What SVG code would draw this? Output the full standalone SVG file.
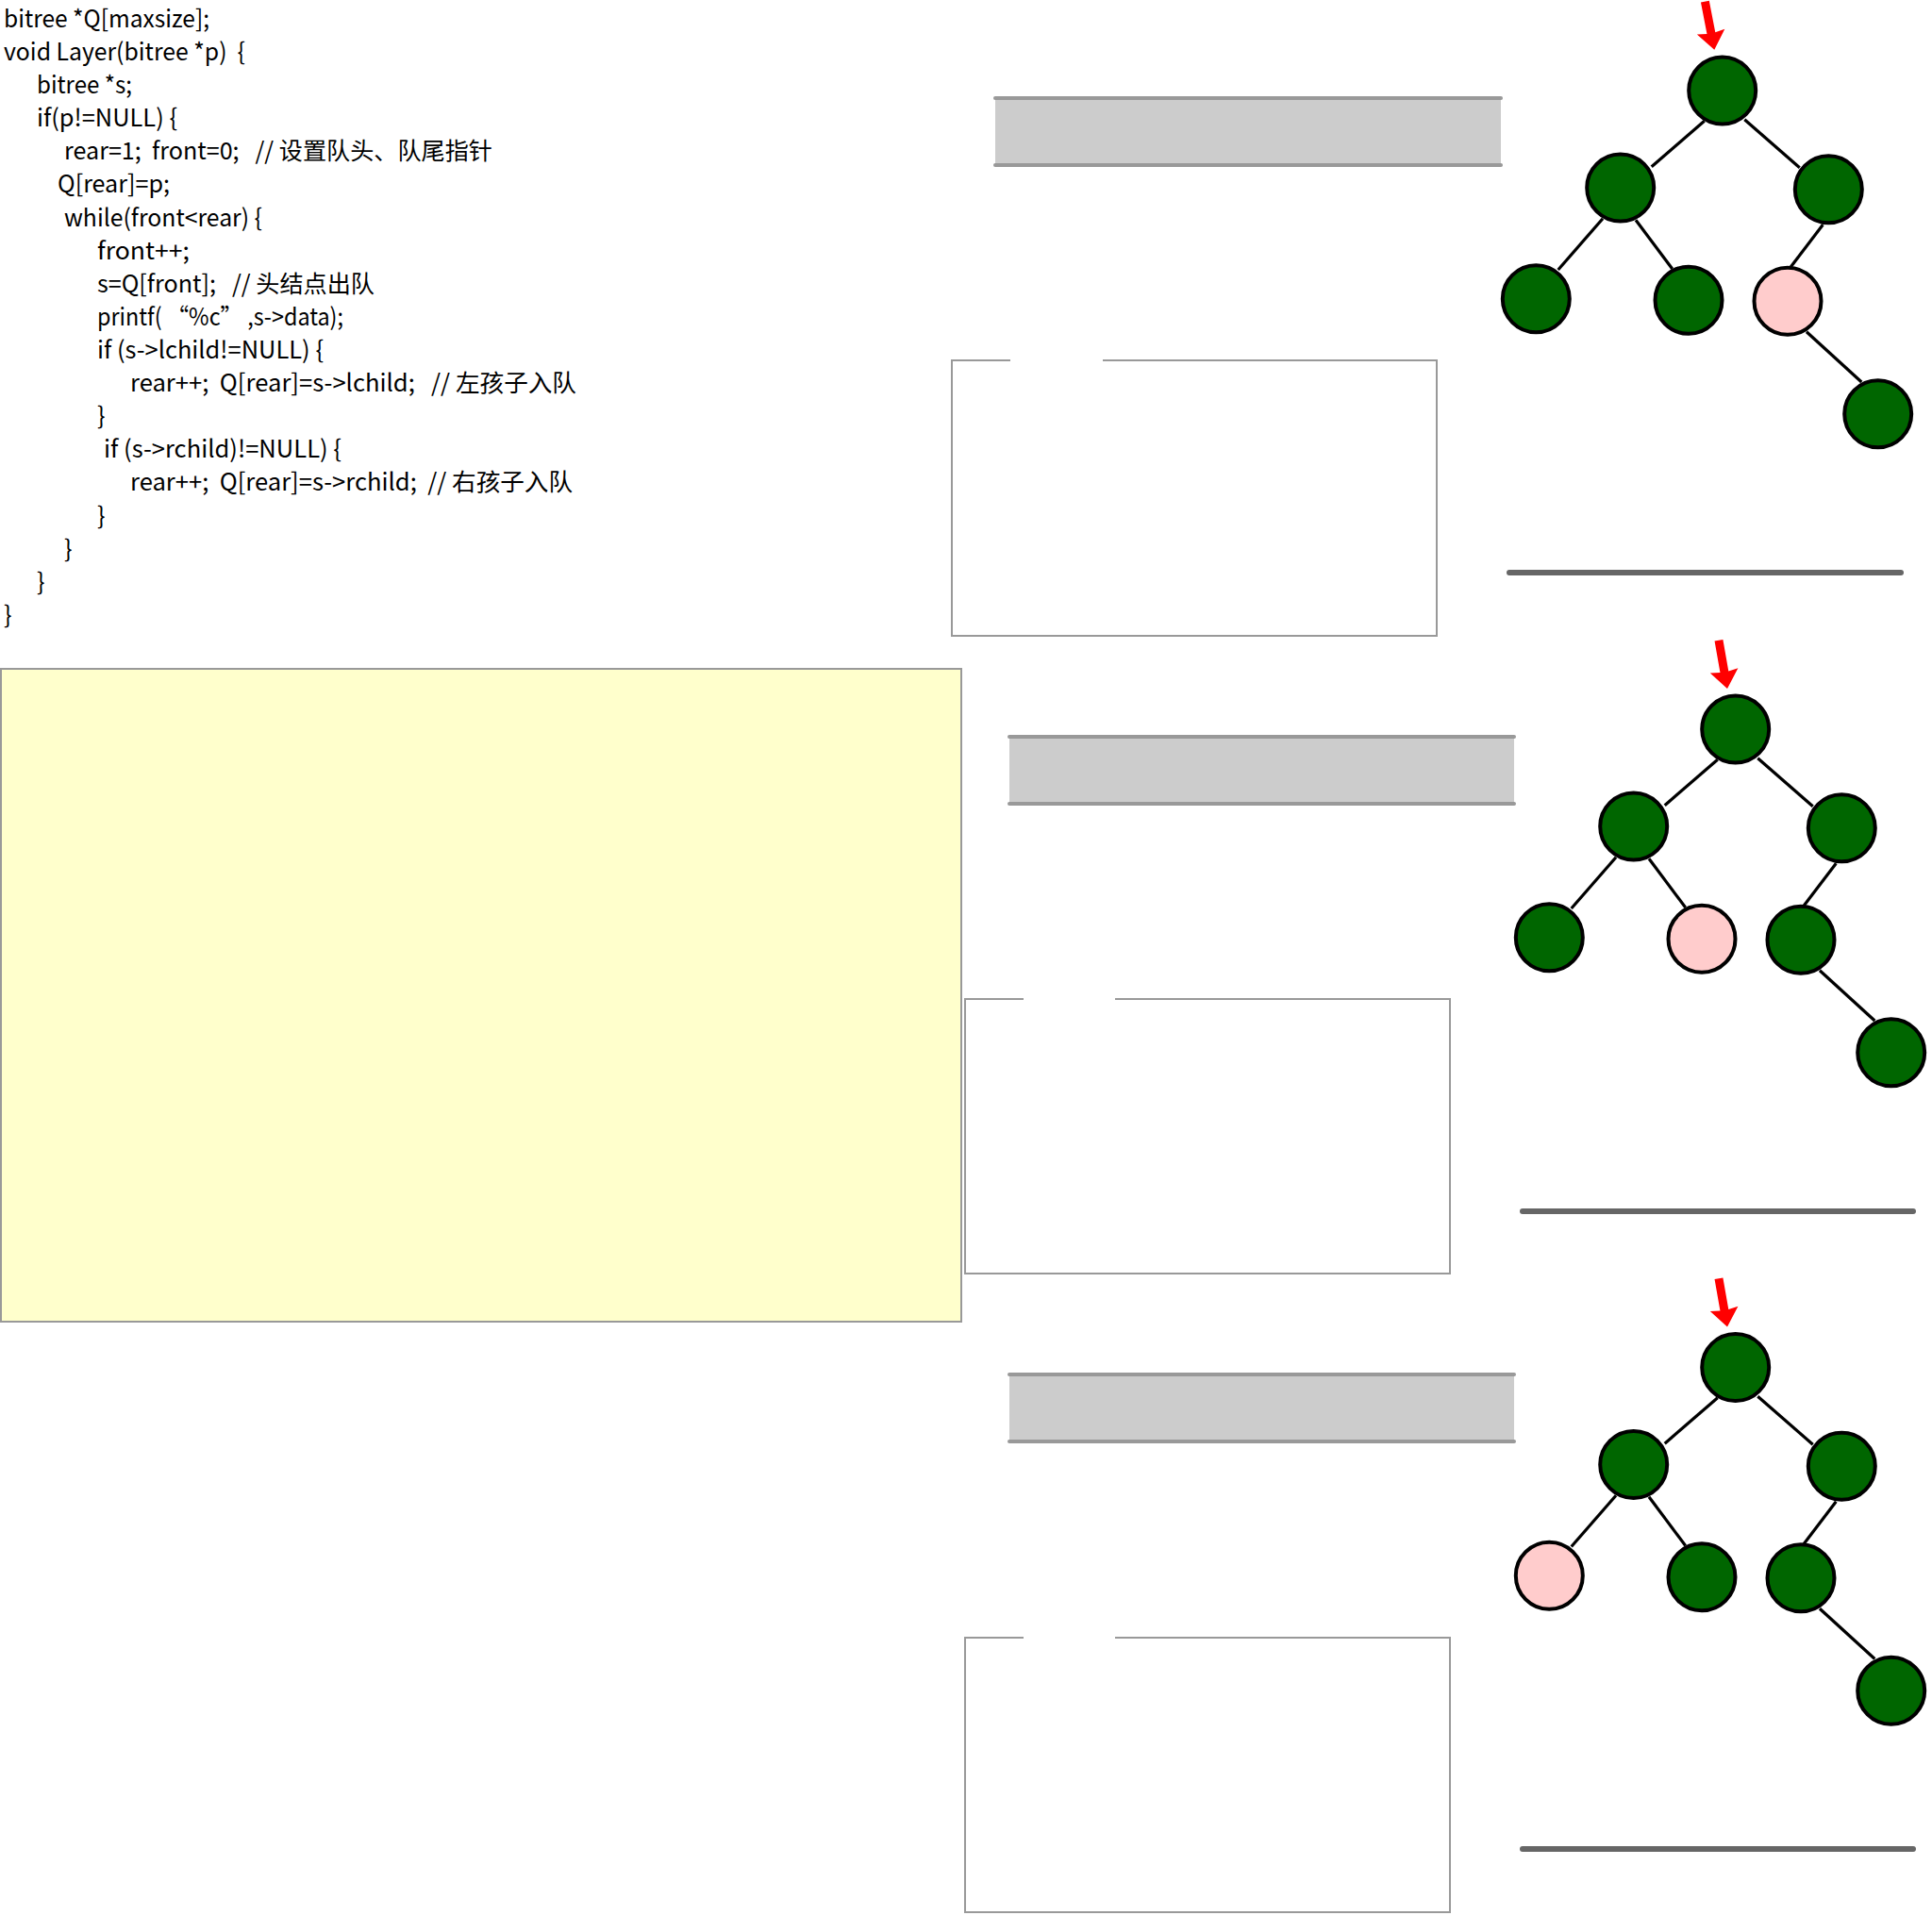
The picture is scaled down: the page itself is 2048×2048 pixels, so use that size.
<svg xmlns="http://www.w3.org/2000/svg" xmlns:xlink="http://www.w3.org/1999/xlink" width="2048" height="2048" viewBox="0 0 2048 2048">
<style>
.code{font-family:"Noto Sans CJK SC","Noto Sans",sans-serif;font-size:25.5px;fill:#000;white-space:pre}
.bar{fill:#cccccc}
.barline{stroke:#999999;stroke-width:4;stroke-linecap:round}
.box{fill:none;stroke:#999999;stroke-width:2}
.base{stroke:#666666;stroke-width:6;stroke-linecap:round}
.edge{stroke:#000;stroke-width:3.2}
.n{fill:#006600;stroke:#000;stroke-width:4}
.p{fill:#ffcccc;stroke:#000;stroke-width:4}
</style>
<defs>
<polygon id="arrow" points="-4.5,-52 4.5,-52 4.5,-18 15,-19.5 0,0 -15,-19.5 -4.5,-18" fill="#ff0000"/>
</defs>
<rect width="2048" height="2048" fill="#ffffff"/>
<g id="code">
<text class="code" xml:space="preserve" x="4" y="29" textLength="218" lengthAdjust="spacingAndGlyphs">bitree *Q[maxsize];</text>
<text class="code" xml:space="preserve" x="4" y="64" textLength="256" lengthAdjust="spacingAndGlyphs">void Layer(bitree *p)  {</text>
<text class="code" xml:space="preserve" x="39" y="99" textLength="101" lengthAdjust="spacingAndGlyphs">bitree *s;</text>
<text class="code" xml:space="preserve" x="39" y="134" textLength="149" lengthAdjust="spacingAndGlyphs">if(p!=NULL) {</text>
<text class="code" xml:space="preserve" x="68" y="169" textLength="454" lengthAdjust="spacingAndGlyphs">rear=1;  front=0;   // 设置队头、队尾指针</text>
<text class="code" xml:space="preserve" x="61" y="204" textLength="119" lengthAdjust="spacingAndGlyphs">Q[rear]=p;</text>
<text class="code" xml:space="preserve" x="68" y="240" textLength="210" lengthAdjust="spacingAndGlyphs">while(front&lt;rear) {</text>
<text class="code" xml:space="preserve" x="103" y="275" textLength="98" lengthAdjust="spacingAndGlyphs">front++;</text>
<text class="code" xml:space="preserve" x="103" y="310" textLength="294" lengthAdjust="spacingAndGlyphs">s=Q[front];   // 头结点出队</text>
<text class="code" xml:space="preserve" x="103" y="345" textLength="261" lengthAdjust="spacingAndGlyphs">printf( “%c” ,s-&gt;data);</text>
<text class="code" xml:space="preserve" x="103" y="380" textLength="240" lengthAdjust="spacingAndGlyphs">if (s-&gt;lchild!=NULL) {</text>
<text class="code" xml:space="preserve" x="138" y="415" textLength="473" lengthAdjust="spacingAndGlyphs">rear++;  Q[rear]=s-&gt;lchild;   // 左孩子入队</text>
<text class="code" xml:space="preserve" x="103" y="450">}</text>
<text class="code" xml:space="preserve" x="110" y="485" textLength="252" lengthAdjust="spacingAndGlyphs">if (s-&gt;rchild)!=NULL) {</text>
<text class="code" xml:space="preserve" x="138" y="520" textLength="469" lengthAdjust="spacingAndGlyphs">rear++;  Q[rear]=s-&gt;rchild;  // 右孩子入队</text>
<text class="code" xml:space="preserve" x="103" y="556">}</text>
<text class="code" xml:space="preserve" x="68" y="591">}</text>
<text class="code" xml:space="preserve" x="39" y="626">}</text>
<text class="code" xml:space="preserve" x="4" y="661">}</text>
</g>
<rect id="yellow-box" x="1" y="709" width="1018" height="692" fill="#ffffcc" stroke="#999999" stroke-width="2"/>
<g id="queue1">
<rect class="bar" x="1055" y="104" width="536" height="71"/>
<line class="barline" x1="1055" y1="104" x2="1591" y2="104"/>
<line class="barline" x1="1055" y1="175" x2="1591" y2="175"/>
</g>
<g id="queue2">
<rect class="bar" x="1070" y="781" width="535" height="71"/>
<line class="barline" x1="1070" y1="781" x2="1605" y2="781"/>
<line class="barline" x1="1070" y1="852" x2="1605" y2="852"/>
</g>
<g id="queue3">
<rect class="bar" x="1070" y="1457" width="535" height="71"/>
<line class="barline" x1="1070" y1="1457" x2="1605" y2="1457"/>
<line class="barline" x1="1070" y1="1528" x2="1605" y2="1528"/>
</g>
<g id="box1"><path class="box" d="M1071,382 H1009 V674 H1523 V382 H1169"/></g>
<g id="box2"><path class="box" d="M1085,1059 H1023 V1350 H1537 V1059 H1182"/></g>
<g id="box3"><path class="box" d="M1085,1736 H1023 V2027 H1537 V1736 H1182"/></g>
<g id="base1"><line class="base" x1="1600" y1="607" x2="2015" y2="607"/></g>
<g id="base2"><line class="base" x1="1614" y1="1284" x2="2028" y2="1284"/></g>
<g id="base3"><line class="base" x1="1614" y1="1960" x2="2028" y2="1960"/></g>
<g id="connectors">
<g id="edges1">
<line class="edge" x1="1806.7" y1="128.3" x2="1750.7" y2="176.7"/>
<line class="edge" x1="1849.3" y1="126.7" x2="1907.7" y2="177.7"/>
<line class="edge" x1="1699" y1="231.7" x2="1651.7" y2="286"/>
<line class="edge" x1="1734" y1="233.3" x2="1772.7" y2="285"/>
<line class="edge" x1="1932.3" y1="238.3" x2="1896.7" y2="285"/>
<line class="edge" x1="1915" y1="351.7" x2="1973.3" y2="405"/>
</g>
<g id="edges2" transform="translate(14,677)">
<line class="edge" x1="1806.7" y1="128.3" x2="1750.7" y2="176.7"/>
<line class="edge" x1="1849.3" y1="126.7" x2="1907.7" y2="177.7"/>
<line class="edge" x1="1699" y1="231.7" x2="1651.7" y2="286"/>
<line class="edge" x1="1734" y1="233.3" x2="1772.7" y2="285"/>
<line class="edge" x1="1932.3" y1="238.3" x2="1896.7" y2="285"/>
<line class="edge" x1="1915" y1="351.7" x2="1973.3" y2="405"/>
</g>
<g id="edges3" transform="translate(14,1353.5)">
<line class="edge" x1="1806.7" y1="128.3" x2="1750.7" y2="176.7"/>
<line class="edge" x1="1849.3" y1="126.7" x2="1907.7" y2="177.7"/>
<line class="edge" x1="1699" y1="231.7" x2="1651.7" y2="286"/>
<line class="edge" x1="1734" y1="233.3" x2="1772.7" y2="285"/>
<line class="edge" x1="1932.3" y1="238.3" x2="1896.7" y2="285"/>
<line class="edge" x1="1915" y1="351.7" x2="1973.3" y2="405"/>
</g>
<use xlink:href="#arrow" href="#arrow" transform="translate(1817.3,52.7) rotate(-11)"/>
<use xlink:href="#arrow" href="#arrow" transform="translate(1831,730) rotate(-10)"/>
<use xlink:href="#arrow" href="#arrow" transform="translate(1831,1406.5) rotate(-10)"/>
</g>
<g id="tree1">
<g id="t1-root"><circle class="n" cx="1825.7" cy="96" r="35.5"/></g>
<g id="t1-l"><circle class="n" cx="1717.7" cy="199" r="35.5"/></g>
<g id="t1-r"><circle class="n" cx="1938.3" cy="200.7" r="35.5"/></g>
<g id="t1-ll"><circle class="n" cx="1628.3" cy="316.7" r="35.5"/></g>
<g id="t1-lr"><circle class="n" cx="1790" cy="318.3" r="35.5"/></g>
<g id="t1-rl"><circle class="p" cx="1895" cy="319.3" r="35.5"/></g>
<g id="t1-rlr"><circle class="n" cx="1990.7" cy="438.7" r="35.5"/></g>
</g>
<g id="tree2">
<g id="t2-root"><circle class="n" cx="1839.7" cy="773" r="35.5"/></g>
<g id="t2-l"><circle class="n" cx="1731.7" cy="876" r="35.5"/></g>
<g id="t2-r"><circle class="n" cx="1952.3" cy="877.7" r="35.5"/></g>
<g id="t2-ll"><circle class="n" cx="1642.3" cy="993.7" r="35.5"/></g>
<g id="t2-lr"><circle class="p" cx="1804" cy="995.3" r="35.5"/></g>
<g id="t2-rl"><circle class="n" cx="1909" cy="996.3" r="35.5"/></g>
<g id="t2-rlr"><circle class="n" cx="2004.7" cy="1115.7" r="35.5"/></g>
</g>
<g id="tree3">
<g id="t3-root"><circle class="n" cx="1839.7" cy="1449.5" r="35.5"/></g>
<g id="t3-l"><circle class="n" cx="1731.7" cy="1552.5" r="35.5"/></g>
<g id="t3-r"><circle class="n" cx="1952.3" cy="1554.2" r="35.5"/></g>
<g id="t3-ll"><circle class="p" cx="1642.3" cy="1670.2" r="35.5"/></g>
<g id="t3-lr"><circle class="n" cx="1804" cy="1671.8" r="35.5"/></g>
<g id="t3-rl"><circle class="n" cx="1909" cy="1672.8" r="35.5"/></g>
<g id="t3-rlr"><circle class="n" cx="2004.7" cy="1792.2" r="35.5"/></g>
</g>
</svg>
